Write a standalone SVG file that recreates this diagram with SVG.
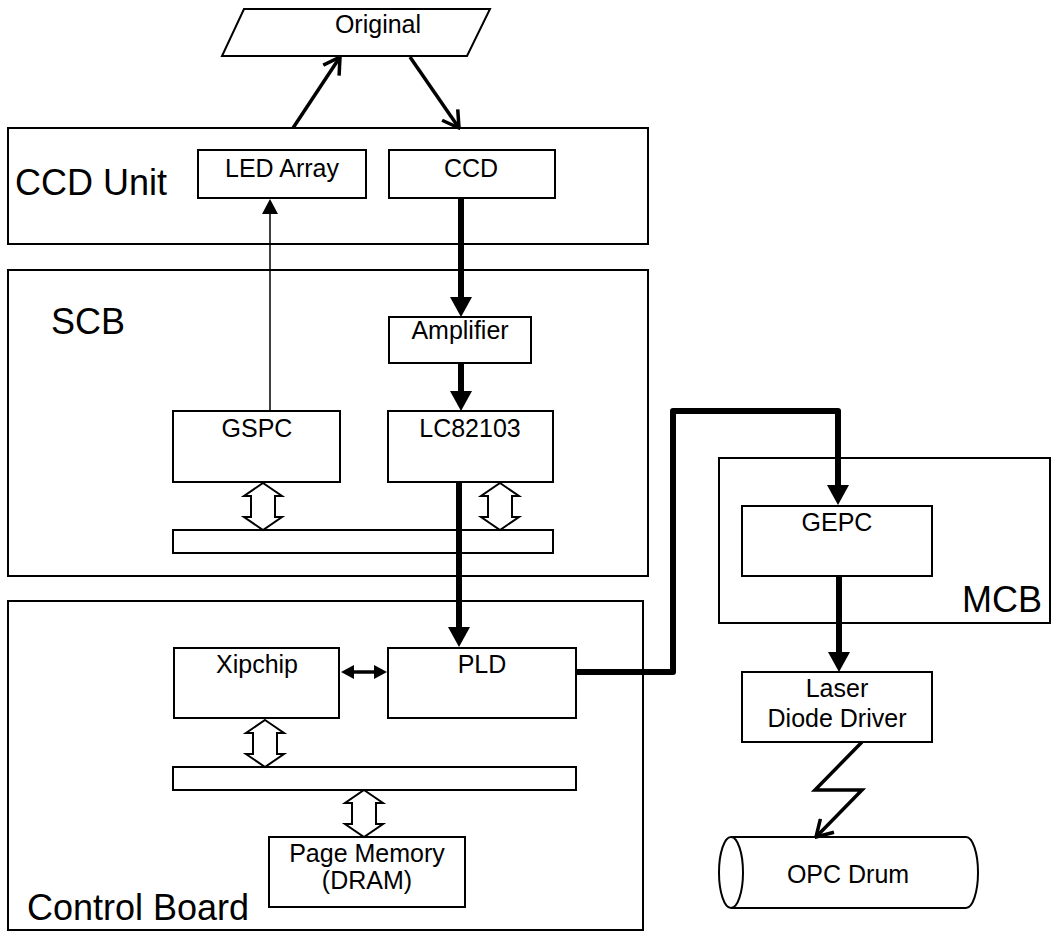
<svg xmlns="http://www.w3.org/2000/svg" width="1055" height="932" viewBox="0 0 1055 932">
<style>
.box{fill:#fff;stroke:#000;stroke-width:2}
.t{font-family:"Liberation Sans",Arial,sans-serif;font-size:25px;fill:#000;text-anchor:middle}
.big{font-family:"Liberation Sans",Arial,sans-serif;font-size:36px;fill:#000}
.thick{fill:none;stroke:#000;stroke-width:6}
.thin{fill:none;stroke:#000;stroke-width:1.5}
.med{fill:none;stroke:#000;stroke-width:3.5}
.hollow{fill:#fff;stroke:#000;stroke-width:2;stroke-linejoin:miter}
</style>
<defs>
<marker id="solid" viewBox="0 0 20 22" refX="8" refY="11" markerWidth="20" markerHeight="22" markerUnits="userSpaceOnUse" orient="auto">
<path d="M0,0 L20,11 L0,22 Z" fill="#000"/>
</marker>
<marker id="small" viewBox="0 0 15 16" refX="5" refY="8" markerWidth="15" markerHeight="16" markerUnits="userSpaceOnUse" orient="auto">
<path d="M0,0 L15,8 L0,16 Z" fill="#000"/>
</marker>
<marker id="dbl" viewBox="0 0 13 14" refX="5" refY="7" markerWidth="13" markerHeight="14" markerUnits="userSpaceOnUse" orient="auto-start-reverse">
<path d="M0,0 L13,7 L0,14 Z" fill="#000"/>
</marker>
<marker id="open" viewBox="0 0 19 22" refX="17" refY="11" markerWidth="19" markerHeight="22" markerUnits="userSpaceOnUse" orient="auto">
<path d="M1,1.5 L17,11 L1,20.5" fill="none" stroke="#000" stroke-width="3.5"/>
</marker>
<path id="harrow" class="hollow" d="M0,0 L19,13 L12,13 L12,34 L19,34 L0,47 L-19,34 L-12,34 L-12,13 L-19,13 Z"/>
</defs>

<g id="original">
<polygon class="box" points="244,9 490,9 467,56 222,56"/>
<text class="t" x="378" y="33">Original</text>
</g>

<g id="ccd-unit">
<rect class="box" x="8" y="128" width="640" height="116"/>
<text class="big" x="15" y="195">CCD Unit</text>
</g>
<g id="led-array">
<rect class="box" x="198" y="150" width="168" height="48"/>
<text class="t" x="282" y="177">LED Array</text>
</g>
<g id="ccd">
<rect class="box" x="389" y="150" width="166" height="48"/>
<text class="t" x="471" y="177">CCD</text>
</g>

<g id="scb">
<rect class="box" x="8" y="270" width="640" height="306"/>
<text class="big" x="51" y="334">SCB</text>
</g>
<g id="amplifier">
<rect class="box" x="389" y="317" width="142" height="46"/>
<text class="t" x="460" y="339">Amplifier</text>
</g>
<g id="gspc">
<rect class="box" x="173" y="411" width="167" height="71"/>
<text class="t" x="257" y="437">GSPC</text>
</g>
<g id="lc82103">
<rect class="box" x="388" y="411" width="165" height="71"/>
<text class="t" x="470" y="437">LC82103</text>
</g>
<g id="scb-bus">
<rect class="box" x="173" y="530" width="380" height="23"/>
</g>

<g id="control-board">
<rect class="box" x="8" y="601" width="635" height="329"/>
<text class="big" x="27" y="920">Control Board</text>
</g>
<g id="xipchip">
<rect class="box" x="174" y="648" width="165" height="70"/>
<text class="t" x="257" y="673">Xipchip</text>
</g>
<g id="pld">
<rect class="box" x="388" y="648" width="188" height="70"/>
<text class="t" x="482" y="673">PLD</text>
</g>
<g id="cb-bus">
<rect class="box" x="173" y="767" width="403" height="23"/>
</g>
<g id="page-memory">
<rect class="box" x="269" y="837" width="196" height="70"/>
<text class="t" x="367" y="862">Page Memory</text>
<text class="t" x="367" y="889">(DRAM)</text>
</g>

<g id="mcb">
<rect class="box" x="719" y="458" width="331" height="165"/>
<text class="big" x="962" y="612">MCB</text>
</g>
<g id="gepc">
<rect class="box" x="742" y="506" width="190" height="70"/>
<text class="t" x="837" y="531">GEPC</text>
</g>
<g id="laser-diode-driver">
<rect class="box" x="742" y="672" width="190" height="70"/>
<text class="t" x="837" y="697">Laser</text>
<text class="t" x="837" y="727">Diode Driver</text>
</g>

<g id="opc-drum">
<path class="box" d="M731,837 H966 A12,35.5 0 0 1 966,908 H731"/>
<ellipse class="box" cx="731" cy="872.5" rx="12" ry="35.5"/>
<text class="t" x="848" y="883">OPC Drum</text>
</g>

<g id="connectors">
<line class="med" x1="293" y1="128" x2="340" y2="57" marker-end="url(#open)"/>
<line class="med" x1="410" y1="57" x2="459" y2="128" marker-end="url(#open)"/>
<line class="thin" x1="270" y1="411" x2="270" y2="209" marker-end="url(#small)"/>
<line class="thick" x1="461" y1="198" x2="461" y2="305" marker-end="url(#solid)"/>
<line class="thick" x1="461" y1="363" x2="461" y2="399" marker-end="url(#solid)"/>
<line class="thick" x1="459" y1="482" x2="459" y2="635" marker-end="url(#solid)"/>
<line class="med" stroke-width="3" x1="349" y1="672" x2="379" y2="672" marker-start="url(#dbl)" marker-end="url(#dbl)"/>
<path class="thick" stroke-linejoin="round" d="M576,672 H673 V411 H838 V493" marker-end="url(#solid)"/>
<line class="thick" x1="839" y1="576" x2="839" y2="660" marker-end="url(#solid)"/>
<polyline class="med" stroke-width="4" points="862,742 815,790 862,790 816,837" marker-end="url(#open)"/>
<use href="#harrow" x="263" y="483"/>
<use href="#harrow" x="500" y="483"/>
<use href="#harrow" x="265" y="720"/>
<use href="#harrow" x="364" y="790"/>
</g>
</svg>
